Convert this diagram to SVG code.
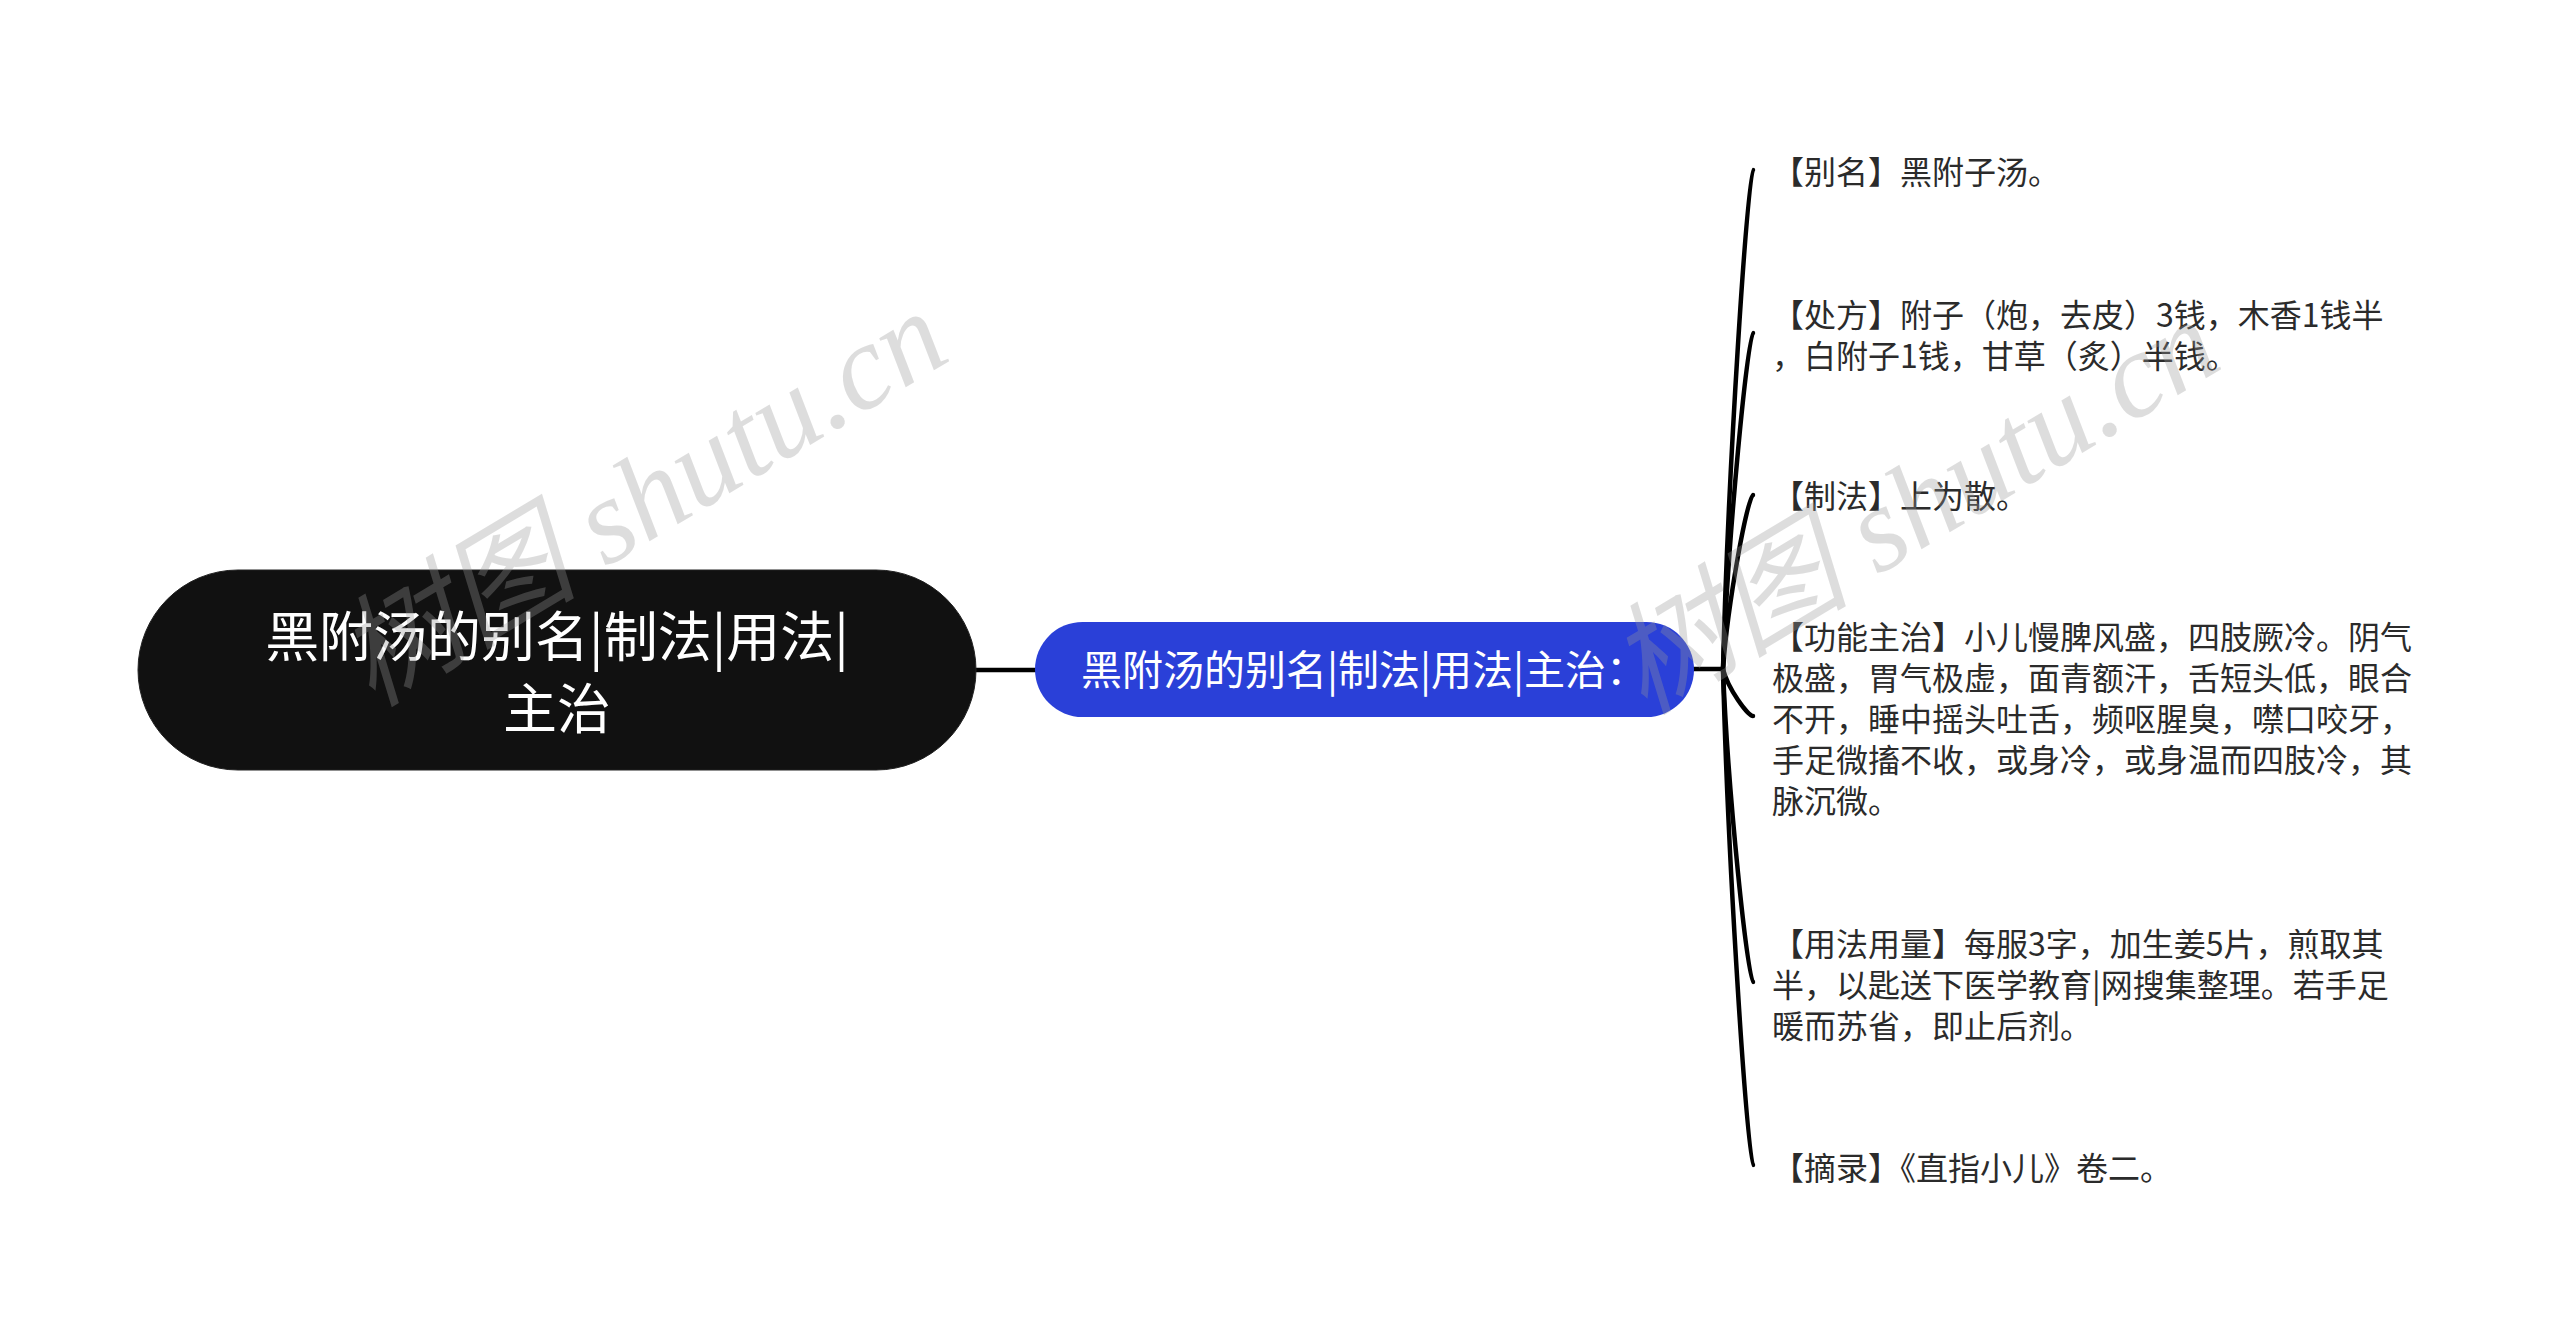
<svg xmlns="http://www.w3.org/2000/svg" width="2560" height="1339" viewBox="0 0 2560 1339">
<style>
.cjk{font-family:"Noto Sans CJK SC","Noto Sans",sans-serif;}
.leaf{font-size:32px;fill:#2b2b2b;}
.wm{font-family:"Liberation Serif","Noto Sans CJK SC",serif;font-style:italic;font-size:121px;fill:#999;opacity:0.32;}
.conn{fill:none;stroke:#000;stroke-width:4.5;stroke-linecap:round;}
</style>
<rect width="2560" height="1339" fill="#fff"/>
<g id="connectors">
<line class="conn" x1="976" y1="670" x2="1037" y2="670"/>
<line class="conn" x1="1692" y1="669" x2="1723" y2="669"/>
<path class="conn" d="M1723 669 C1728 469 1748 170 1753 170"/>
<path class="conn" d="M1723 669 C1728 535 1748 333 1753 333"/>
<path class="conn" d="M1723 669 C1728 600 1748 495 1753 495"/>
<path class="conn" d="M1723 669 C1728 689 1748 716 1753 716"/>
<path class="conn" d="M1723 669 C1728 795 1748 982 1753 982"/>
<path class="conn" d="M1723 669 C1728 869 1748 1165 1753 1165"/>
</g>
<g id="root">
<rect x="138" y="570" width="838" height="200" rx="100" ry="100" fill="#111" stroke="#222" stroke-width="1"/>
<text class="cjk" x="557" y="657" font-size="54" fill="#fff" text-anchor="middle">黑附汤的别名|制法|用法|</text>
<text class="cjk" x="557" y="729" font-size="54" fill="#fff" text-anchor="middle">主治</text>
</g>
<g id="main">
<rect x="1035" y="622" width="659" height="95" rx="47.5" ry="47.5" fill="#2a40d8"/>
<text class="cjk" x="1364" y="685" font-size="41" fill="#fff" text-anchor="middle">黑附汤的别名|制法|用法|主治：</text>
</g>
<g id="n-alias">
<text class="cjk leaf" x="1772" y="184">【别名】黑附子汤。</text>
</g>
<g id="n-recipe">
<text class="cjk leaf" x="1772" y="327">【处方】附子（炮，去皮）3钱，木香1钱半</text>
<text class="cjk leaf" x="1772" y="368">，白附子1钱，甘草（炙）半钱。</text>
</g>
<g id="n-prep">
<text class="cjk leaf" x="1772" y="508">【制法】上为散。</text>
</g>
<g id="n-indication">
<text class="cjk leaf" x="1772" y="649">【功能主治】小儿慢脾风盛，四肢厥冷。阴气</text>
<text class="cjk leaf" x="1772" y="690">极盛，胃气极虚，面青额汗，舌短头低，眼合</text>
<text class="cjk leaf" x="1772" y="731">不开，睡中摇头吐舌，频呕腥臭，噤口咬牙，</text>
<text class="cjk leaf" x="1772" y="772">手足微搐不收，或身冷，或身温而四肢冷，其</text>
<text class="cjk leaf" x="1772" y="813">脉沉微。</text>
</g>
<g id="n-usage">
<text class="cjk leaf" x="1772" y="956">【用法用量】每服3字，加生姜5片，煎取其</text>
<text class="cjk leaf" x="1772" y="997">半，以匙送下医学教育|网搜集整理。若手足</text>
<text class="cjk leaf" x="1772" y="1038">暖而苏省，即止后剂。</text>
</g>
<g id="n-source">
<text class="cjk leaf" x="1772" y="1180">【摘录】《直指小儿》卷二。</text>
</g>
<g id="watermarks">
<text class="wm" transform="translate(372 708) rotate(-31)">树图 shutu.cn</text>
<text class="wm" transform="translate(1644 716) rotate(-31)">树图 shutu.cn</text>
</g>
</svg>
